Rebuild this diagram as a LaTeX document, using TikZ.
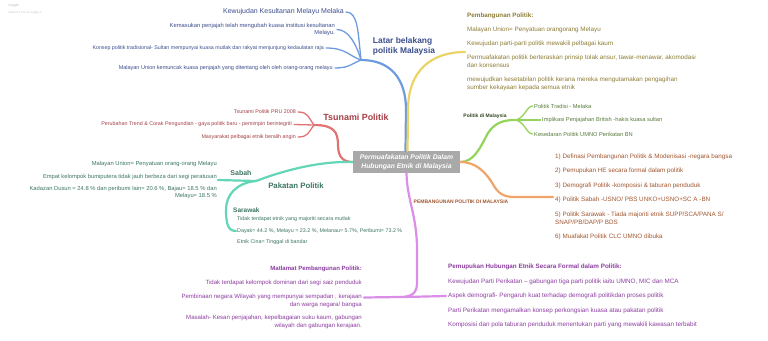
\documentclass[tikz,border=0pt]{standalone}
\usepackage{fontspec}
\setmainfont{Liberation Sans}
\usepackage{tikz}
\usetikzlibrary{positioning,calc}
\definecolor{mapBlue}{HTML}{6E9BE0}
\definecolor{mapBlueInk}{HTML}{3B4E8C}
\definecolor{mapGold}{HTML}{EBD466}
\definecolor{mapGoldInk}{HTML}{8C7B33}
\definecolor{mapGreen}{HTML}{94D45A}
\definecolor{mapGreenInk}{HTML}{587A3A}
\definecolor{mapOrange}{HTML}{F0A46A}
\definecolor{mapOrangeInk}{HTML}{A0552E}
\definecolor{mapViolet}{HTML}{DA8EE8}
\definecolor{mapVioletInk}{HTML}{8C3DA0}
\definecolor{mapTeal}{HTML}{62D6B6}
\definecolor{mapTealInk}{HTML}{3C7464}
\definecolor{mapRed}{HTML}{E07474}
\definecolor{mapRedInk}{HTML}{A23E44}
\definecolor{mapGray}{HTML}{A9A9A9}

\begin{document}
\begin{tikzpicture}[x=1pt,y=-1pt,
  item/.style={text=#1,inner sep=0pt,font=\fontsize{5.5}{6.8}\selectfont},
  block/.style={text=#1,inner sep=0pt,align=left,font=\fontsize{6.3}{8}\selectfont},
  topic/.style={text=#1,inner sep=0pt,align=left,font=\bfseries\fontsize{8.4}{9.5}\selectfont},
  tag/.style={text=#1,inner sep=0pt,font=\bfseries\fontsize{5}{6}\selectfont},
  branch/.style={draw=#1,line width=2.2pt,line cap=round},
  twig/.style={draw=#1,line width=1.3pt,line cap=round}
]
  \useasboundingbox (0,0) rectangle (768,340);

  \node[text=black!25,font=\fontsize{3.6}{4}\selectfont,anchor=west,inner sep=0pt] (mark) at (8,6) {coggle};
  \node[text=black!22,font=\fontsize{3}{4}\selectfont,anchor=west,inner sep=0pt] (markline) at (8,13) {made for free at coggle.it};

  \node[fill=mapGray,text=white,font=\bfseries\itshape\fontsize{6.8}{8.6}\selectfont,align=center,
    minimum width=107pt,minimum height=22pt,inner sep=2pt] (core) at (406.5,162)
    {Permuafakatan Politik Dalam\\Hubungan Etnik di Malaysia};

  % latar belakang
  \node[item=mapBlueInk,font=\fontsize{7}{8}\selectfont,anchor=east] (lb1) at (344,12) {Kewujudan Kesultanan Melayu Melaka};
  \node[item=mapBlueInk,font=\fontsize{5.8}{7}\selectfont,align=right,anchor=east] (lb2) at (335,29.5) {Kemasukan penjajah telah mengubah kuasa institusi kesultanan\\Melayu.};
  \node[item=mapBlueInk,font=\fontsize{5.3}{6.5}\selectfont,anchor=east] (lb3) at (324,48) {Konsep politik tradisional- Sultan mempunyai kuasa mutlak dan rakyat menjunjung kedaulatan raja};
  \node[item=mapBlueInk,anchor=east] (lb4) at (333,68) {Malayan Union kemuncak kuasa penjajah yang ditentang oleh oleh orang-orang melayu};
  \coordinate (jb) at (361,60);
  \node[topic=mapBlueInk] (latar) at (404,46.5) {Latar belakang\\politik Malaysia};
  \draw[twig=mapBlue] ([xshift=2pt]lb1.east) .. controls +(12,0) and +(-3,-28) .. (jb);
  \draw[twig=mapBlue] ([xshift=2pt]lb2.east) .. controls +(12,0) and +(-4,-14) .. (jb);
  \draw[twig=mapBlue] ([xshift=2pt]lb3.east) .. controls +(20,0) and +(-12,-4) .. (jb);
  \draw[twig=mapBlue] ([xshift=2pt]lb4.east) .. controls +(14,0) and +(-10,4) .. (jb);
  \draw[branch=mapBlue] (jb) .. controls (390,60) and (406,78) .. (406,110) -- ([xshift=-1pt]core.north);

  % pembangunan politik
  \node[block=mapGoldInk,anchor=west] (bangun) at (467,52)
    {\textbf{Pembangunan Politik:}\\[6pt]Malayan Union= Penyatuan orangorang Melayu\\[6pt]Kewujudan parti-parti politik mewakili pelbagai kaum\\[6pt]Permuafakatan politik berteraskan prinsip tolak ansur, tawar-menawar, akomodasi\\dan konsensus\\[6pt]mewujudkan kesetabilan politik kerana mereka mengutamakan pengagihan\\sumber kekayaan kepada semua etnik};
  \draw[branch=mapGold] ([xshift=1pt]core.north) -- (408,110) .. controls (408,70) and (432,52) .. ([xshift=-2pt]bangun.west);

  % tsunami
  \node[item=mapRedInk,font=\fontsize{5.35}{6}\selectfont,anchor=east] (ts1) at (296,112) {Tsunami Politik PRU 2008};
  \node[item=mapRedInk,font=\fontsize{5.35}{6}\selectfont,anchor=east] (ts2) at (292,124.5) {Perubahan Trend \& Corak Pengundian - gaya politik baru - pemimpin berintegriti};
  \node[item=mapRedInk,font=\fontsize{5.35}{6}\selectfont,anchor=east] (ts3) at (296,137) {Masyarakat pelbagai etnik beralih angin};
  \coordinate (jr) at (314,125);
  \node[topic=mapRedInk,font=\bfseries\fontsize{8.9}{10}\selectfont] (tsunami) at (356,117.5) {Tsunami Politik};
  \draw[twig=mapRed] ([xshift=2pt]ts1.east) .. controls +(10,0) and +(-6,-8) .. (jr);
  \draw[twig=mapRed] ([xshift=2pt]ts2.east) -- (jr);
  \draw[twig=mapRed] ([xshift=2pt]ts3.east) .. controls +(10,0) and +(-6,8) .. (jr);
  \draw[branch=mapRed] (jr) .. controls (334,125) and (338,132) .. (338,145) .. controls (338,158) and (344,162) .. (core.west);

  % pakatan politik
  \node[topic=mapTealInk,font=\bfseries\fontsize{7.8}{9}\selectfont] (pakatan) at (296,186) {Pakatan Politik};
  \coordinate (jt) at (256,181);
  \draw[branch=mapTeal] (core.west) .. controls (320,161) and (285,170) .. (jt);
  \node[item=mapTealInk,align=right,anchor=east,font=\fontsize{5.8}{7}\selectfont] (sabah) at (217,180)
    {Malayan Union= Penyatuan orang-orang Melayu\\[5.5pt]Empat kelompok bumiputera tidak jauh berbeza dari segi peratusan\\[5.5pt]Kadazan Dusun = 24.8 \% dan peribumi lain= 20.6 \%, Bajau= 18.5 \% dan\\Melayu= 18.5 \%};
  \node[topic=mapTealInk,font=\bfseries\fontsize{7}{8}\selectfont] (sabahtag) at (241,173) {Sabah};
  \draw[branch=mapTeal] (jt) -- ([xshift=1pt]sabah.east);
  \node[topic=mapTealInk,font=\bfseries\fontsize{6.5}{7.5}\selectfont,anchor=west] (sarawaktag) at (233,210) {Sarawak};
  \node[item=mapTealInk,font=\fontsize{5.35}{6}\selectfont,anchor=west,align=left] (sarawak) at (237,231)
    {Tidak terdapat etnik yang majoriti secara mutlak\\[6pt]Dayak= 44.2 \%, Melayu = 23.2 \%, Melanau= 5.7\%, Peribumi= 73.2 \%\\[5pt]Etnik Cina= Tinggal di bandar};
  \draw[branch=mapTeal] (jt) .. controls (236,183) and (226,195) .. (226,210) .. controls (226,226) and (229,231) .. ([xshift=-1pt]sarawak.west);

  % politik di malaysia
  \node[tag=mapGreenInk!55!black] (politik) at (485,116) {Politik di Malaysia};
  \coordinate (jg) at (514,120);
  \draw[branch=mapGreen] (core.east) .. controls (474,162) and (480,148) .. (488,133) .. controls (494,124) and (502,120) .. (jg);
  \node[item=mapGreenInk,font=\fontsize{5.7}{6.5}\selectfont,anchor=west] (g1) at (534,106) {Politik Tradisi - Melaka};
  \node[item=mapGreenInk,font=\fontsize{5.7}{6.5}\selectfont,anchor=west] (g2) at (542,120) {Implikasi Penjajahan British -hakis kuasa sultan};
  \node[item=mapGreenInk,font=\fontsize{5.7}{6.5}\selectfont,anchor=west] (g3) at (534,134) {Kesedaran Politik UMNO Perikatan BN};
  \draw[twig=mapGreen] (jg) .. controls +(10,0) and +(-6,0) .. ([xshift=-1.5pt]g1.west);
  \draw[twig=mapGreen] (jg) -- ([xshift=-1.5pt]g2.west);
  \draw[twig=mapGreen] (jg) .. controls +(10,0) and +(-6,0) .. ([xshift=-1.5pt]g3.west);

  % pembangunan politik di malaysia
  \node[block=mapOrangeInk,anchor=west] (tahap) at (555,197)
    {1) Definasi Pembangunan Politik \& Modenisasi -negara bangsa\\[6.5pt]2) Pemupukan HE secara formal dalam politik\\[6.5pt]3) Demografi Politik -komposisi \& taburan penduduk\\[6.5pt]4) Politik Sabah -USNO/ PBS UNKO+USNO+SC A -BN\\[6.5pt]5) Politik Sarawak - Tiada majoriti etnik SUPP/SCA/PANA S/\\SNAP/PB/DAP/P BDS\\[6.5pt]6) Muafakat Politik CLC UMNO dibuka};
  \node[tag=mapOrangeInk] (pembangunan) at (461,202) {PEMBANGUNAN POLITIK DI MALAYSIA};
  \draw[branch=mapOrange] (core.east) .. controls (476,162) and (486,172) .. (494,186) .. controls (499,194) and (504,197) .. (515,197) -- ([xshift=-2pt]tahap.west);

  % matlamat dan pemupukan
  \node[block=mapVioletInk,font=\fontsize{6.05}{8}\selectfont,align=right,anchor=east] (matlamat) at (362,297.5)
    {\textbf{Matlamat Pembangunan Politik:}\\[6pt]Tidak terdapat kelompok dominan dari segi saiz penduduk\\[6pt]Pembinaan negara Wilayah yang mempunyai sempadan , kerajaan\\dan warga negara/ bangsa\\[5pt]Masalah- Kesan penjajahan, kepelbagaian suku kaum, gabungan\\wilayah dan gabungan kerajaan.};
  \node[block=mapVioletInk,anchor=west] (pemupukan) at (448,296)
    {\textbf{Pemupukan Hubungan Etnik Secara Formal dalam Politik:}\\[6.5pt]Kewujudan Parti Perikatan -- gabungan tiga parti politik iaitu UMNO, MIC dan MCA\\[6.5pt]Aspek demografi- Pengaruh kuat terhadap demografi politikdan proses politik\\[6.5pt]Parti Perikatan mengamalkan konsep perkongsian kuasa atau pakatan politik\\[6.5pt]Komposisi dan pola taburan penduduk menentukan parti yang mewakili kawasan terbabit};
  \coordinate (jp) at (405,297);
  \draw[branch=mapViolet] (core.south) .. controls (407,200) and (417,215) .. (417,250) -- (417,283) .. controls (417,293) and (412,297) .. (400,297) -- ([xshift=2pt]matlamat.east);
  \draw[branch=mapViolet] (jp) -- ([xshift=-2pt]pemupukan.west);
\end{tikzpicture}
\end{document}
